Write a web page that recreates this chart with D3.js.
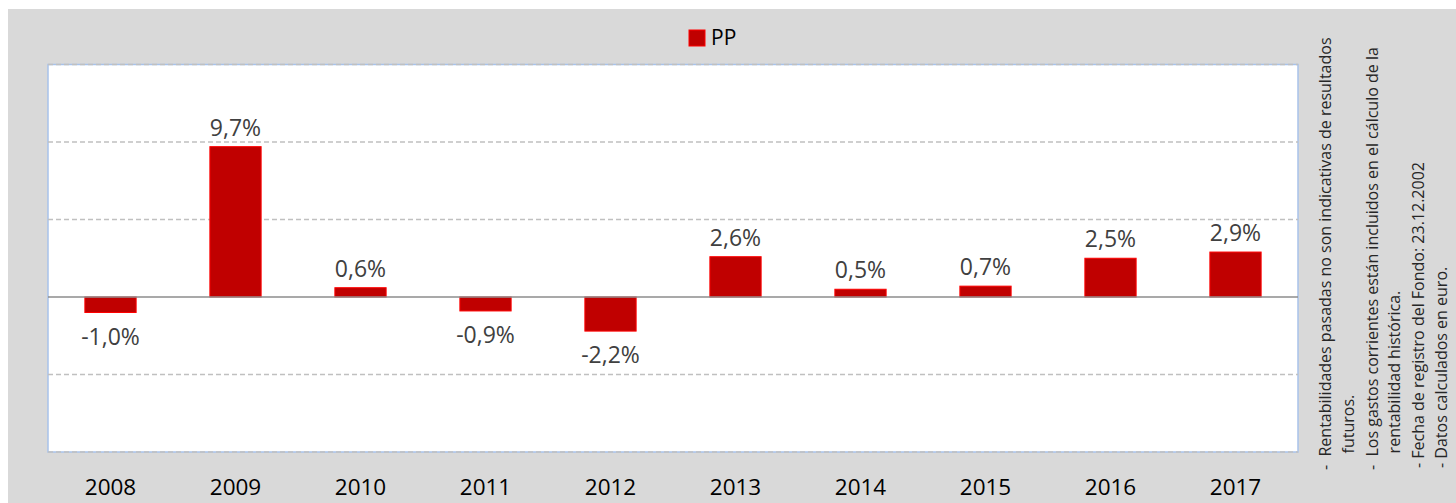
<!DOCTYPE html>
<html>
<head>
<meta charset="utf-8">
<script src="https://cdn.jsdelivr.net/npm/d3@7"></script>
<style>
  body { margin: 0; background: #fff; }
  text { font-family: 'Open Sans', sans-serif; }
</style>
</head>
<body>
<div id="chart"></div>
<script>
const years = ['2008', '2009', '2010', '2011', '2012', '2013', '2014', '2015', '2016', '2017']
const values = [-1.0, 9.7, 0.6, -0.9, -2.2, 2.6, 0.5, 0.7, 2.5, 2.9]
const seriesName = 'PP'
const yTicks = [-10, -5, 0, 5, 10, 15]
const notes = [
  '-  Rentabilidades pasadas no son indicativas de resultados',
  '    futuros.',
  '-  Los gastos corrientes están incluidos en el cálculo de la',
  '    rentabilidad histórica.',
  '- Fecha de registro del Fondo: 23.12.2002',
  '- Datos calculados en euro.'
]

const W = 1456
const H = 503
const plot = { left: 48, top: 64.5, right: 1298, bottom: 452 }

const svg = d3.select('#chart')
  .append('svg')
  .attr('width', W)
  .attr('height', H)

// grey chart area
svg.append('rect')
  .attr('x', 8).attr('y', 9)
  .attr('width', W - 8).attr('height', H - 9)
  .attr('fill', '#d9d9d9')

const x = d3.scaleBand()
  .domain(years)
  .range([plot.left, plot.right])
  .paddingInner(0.59)
  .paddingOuter(0.295)

const y = d3.scaleLinear()
  .domain([-10, 15])
  .range([plot.bottom, plot.top])

// plot area
svg.append('rect')
  .attr('x', plot.left).attr('y', plot.top)
  .attr('width', plot.right - plot.left).attr('height', plot.bottom - plot.top)
  .attr('fill', '#fff')
  .attr('stroke', '#a8c2ea')
  .attr('stroke-width', 1.5)

// gridlines
svg.append('g')
  .selectAll('line')
  .data(yTicks.filter(d => d !== 0))
  .join('line')
  .attr('x1', plot.left).attr('x2', plot.right)
  .attr('y1', d => y(d)).attr('y2', d => y(d))
  .attr('stroke', '#c0c0c0')
  .attr('stroke-width', 1.5)
  .attr('stroke-dasharray', '5,3')

// bars
svg.append('g')
  .selectAll('rect')
  .data(values)
  .join('rect')
  .attr('x', (d, i) => x(years[i]))
  .attr('y', d => y(Math.max(0, d)))
  .attr('width', x.bandwidth())
  .attr('height', d => Math.abs(y(d) - y(0)))
  .attr('fill', '#c00000')
  .attr('stroke', '#ff0000')
  .attr('stroke-width', 1)

// zero line
svg.append('line')
  .attr('x1', plot.left).attr('x2', plot.right)
  .attr('y1', y(0)).attr('y2', y(0))
  .attr('stroke', '#8c8c8c')
  .attr('stroke-width', 1.5)

// data labels
const fmt = v => d3.format('.1f')(v).replace('.', ',').replace('−', '-') + '%'
svg.append('g')
  .selectAll('text')
  .data(values)
  .join('text')
  .attr('x', (d, i) => x(years[i]) + x.bandwidth() / 2)
  .attr('y', d => d >= 0 ? y(d) - 11 : y(d) + 32)
  .attr('text-anchor', 'middle')
  .attr('font-size', 23)
  .attr('fill', '#404040')
  .text(d => fmt(d))

// x axis labels
const xAxis = svg.append('g')
  .attr('transform', 'translate(0,' + plot.bottom + ')')
  .call(d3.axisBottom(x).tickSize(0).tickPadding(0))
xAxis.select('.domain').remove()
xAxis.selectAll('text')
  .attr('y', 43)
  .attr('dy', null)
  .attr('font-size', 22.5)
  .attr('font-family', "'Open Sans', sans-serif")
  .attr('fill', '#000')

// legend
const legend = svg.append('g').attr('transform', 'translate(689,30)')
legend.append('rect')
  .attr('width', 16).attr('height', 16)
  .attr('fill', '#c00000')
  .attr('stroke', '#ff0000')
  .attr('stroke-width', 1)
legend.append('text')
  .attr('x', 22).attr('y', 15)
  .attr('font-size', 21)
  .attr('fill', '#000')
  .text(seriesName)

// side notes, rotated
const noteX = [1331, 1354, 1378, 1400, 1424, 1447]
svg.append('g')
  .selectAll('text')
  .data(notes)
  .join('text')
  .attr('transform', (d, i) => 'translate(' + noteX[i] + ',' + (i >= 4 ? 468 : 470) + ') rotate(-90)')
  .attr('font-size', 16)
  .attr('fill', '#262626')
  .attr('xml:space', 'preserve')
  .style('white-space', 'pre')
  .text(d => d)
</script>
</body>
</html>
